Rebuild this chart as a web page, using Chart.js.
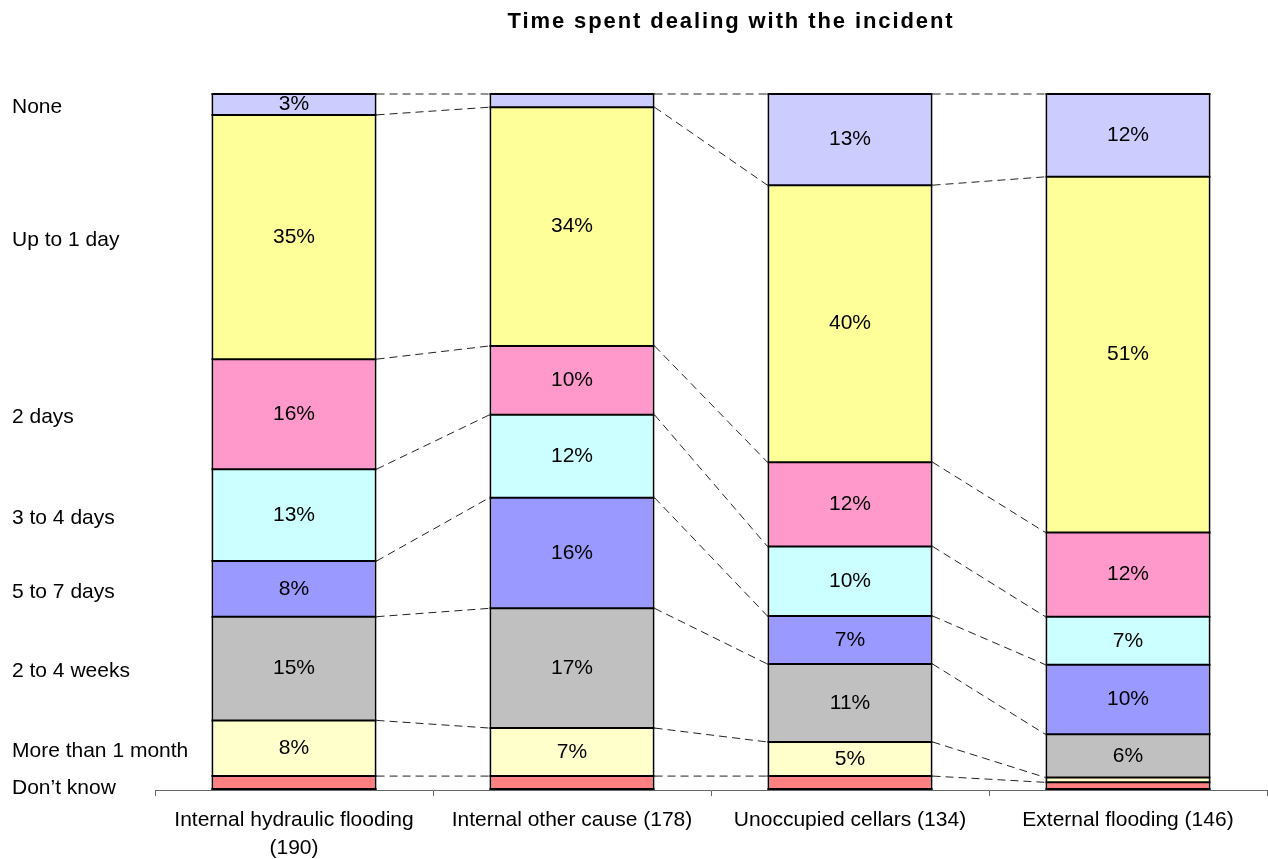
<!DOCTYPE html>
<html>
<head>
<meta charset="utf-8">
<script src="https://cdn.jsdelivr.net/npm/chart.js@4/dist/chart.umd.min.js"></script>
<style>
  body { margin: 0; background: #fff; }
  #wrap { width: 1268px; height: 859px; position: relative; }
</style>
</head>
<body>
<div id="wrap"><canvas id="chart"></canvas></div>
<script>
// categories along the x axis
const categories = [['Internal hydraulic flooding', '(190)'], 'Internal other cause (178)', 'Unoccupied cellars (134)', 'External flooding (146)'];

// series, bottom of the stack first (percent of each bar)
const seriesNames = ['Don\u2019t know', 'More than 1 month', '2 to 4 weeks', '5 to 7 days', '3 to 4 days', '2 days', 'Up to 1 day', 'None'];
const dontKnow        = [2.0, 2.0, 2.0, 1.1];
const moreThanMonth   = [8.0, 6.9, 4.9, 0.7];
const twoToFourWeeks  = [14.9, 17.2, 11.2, 6.2];
const fiveToSevenDays = [8.0, 15.9, 6.9, 10.0];
const threeToFourDays = [13.2, 11.9, 10.0, 6.9];
const twoDays         = [15.8, 9.9, 12.1, 12.1];
const upToOneDay      = [35.1, 34.3, 39.8, 51.1];
const none            = [3.0, 1.9, 13.1, 11.9];

const seriesValues = [dontKnow, moreThanMonth, twoToFourWeeks, fiveToSevenDays, threeToFourDays, twoDays, upToOneDay, none];
const seriesColors = ['#FF8080', '#FFFFCC', '#C0C0C0', '#9999FF', '#CCFFFF', '#FF99CC', '#FFFF99', '#CCCCFF'];

const titleText = 'Time spent dealing with the incident';
const FONT = '"Liberation Sans", Arial, sans-serif';

// segment edges, dashed connectors, value labels, series names on the left, title
const decorations = {
    id: 'decorations',
    afterDatasetsDraw(chart) {
        const ctx = chart.ctx;
        const n = chart.data.datasets.length;

        // solid edges between segments (and bar bottoms)
        ctx.save();
        ctx.strokeStyle = '#000';
        ctx.lineWidth = 2;
        for (let d = 0; d < n; d++) {
            const bars = chart.getDatasetMeta(d).data;
            for (let j = 0; j < bars.length; j++) {
                const b = bars[j];
                const l = b.x - b.width / 2, r = b.x + b.width / 2;
                ctx.beginPath();
                ctx.moveTo(l, b.y);
                ctx.lineTo(r, b.y);
                if (d === 0) {
                    ctx.moveTo(l, b.base - 1);
                    ctx.lineTo(r, b.base - 1);
                }
                ctx.stroke();
            }
        }
        ctx.restore();

        // dashed lines between tops of matching segments
        ctx.save();
        ctx.strokeStyle = '#222';
        ctx.lineWidth = 1;
        ctx.setLineDash([8, 5]);
        for (let d = 0; d < n; d++) {
            const bars = chart.getDatasetMeta(d).data;
            for (let j = 0; j < bars.length - 1; j++) {
                const a = bars[j], b = bars[j + 1];
                ctx.beginPath();
                ctx.moveTo(a.x + a.width / 2, a.y);
                ctx.lineTo(b.x - b.width / 2, b.y);
                ctx.stroke();
            }
        }
        ctx.restore();

        // percentage labels
        ctx.save();
        ctx.fillStyle = '#000';
        ctx.font = '21px ' + FONT;
        ctx.textAlign = 'center';
        ctx.textBaseline = 'middle';
        for (let d = 0; d < n; d++) {
            const bars = chart.getDatasetMeta(d).data;
            const vals = chart.data.datasets[d].data;
            for (let j = 0; j < bars.length; j++) {
                if (vals[j] < 2.5) continue;
                ctx.fillText(Math.round(vals[j]) + '%', bars[j].x, (bars[j].y + bars[j].base) / 2);
            }
        }

        // series names beside the first bar
        ctx.font = '21px ' + FONT;
        ctx.textAlign = 'left';
        for (let d = 0; d < n; d++) {
            const bar = chart.getDatasetMeta(d).data[0];
            const shift = d === 0 ? 5 : 3;
            ctx.fillText(chart.data.datasets[d].label, 12, (bar.y + bar.base) / 2 + shift);
        }

        // title
        ctx.font = 'bold 22px ' + FONT;
        ctx.textAlign = 'center';
        ctx.letterSpacing = '1.9px';
        ctx.fillText(titleText, 731, 22);
        ctx.restore();
    }
};

new Chart(document.getElementById('chart'), {
    type: 'bar',
    data: {
        labels: categories,
        datasets: seriesNames.map((name, i) => ({
            label: name,
            data: seriesValues[i],
            backgroundColor: seriesColors[i],
            borderColor: '#000',
            borderWidth: {left: 2, right: 2, top: 0, bottom: 0},
            borderSkipped: false,
            barPercentage: 0.594,
            categoryPercentage: 1
        }))
    },
    options: {
        responsive: true,
        maintainAspectRatio: false,
        animation: false,
        layout: {padding: {left: 155, top: 94, right: 1, bottom: 0}},
        plugins: {
            legend: {display: false},
            tooltip: {enabled: false},
            title: {display: false}
        },
        scales: {
            x: {
                stacked: true,
                offset: true,
                grid: {offset: true, drawOnChartArea: false, drawTicks: true, tickLength: 6, color: '#666'},
                border: {display: true, color: '#666', width: 1},
                ticks: {
                    color: '#000',
                    padding: 10,
                    maxRotation: 0,
                    autoSkip: false,
                    font: {family: FONT, size: 21, lineHeight: 1.35}
                },
                afterFit(scale) { scale.height = 69; }
            },
            y: {
                stacked: true,
                display: false,
                min: 0,
                max: 100
            }
        }
    },
    plugins: [decorations]
});
</script>
</body>
</html>
